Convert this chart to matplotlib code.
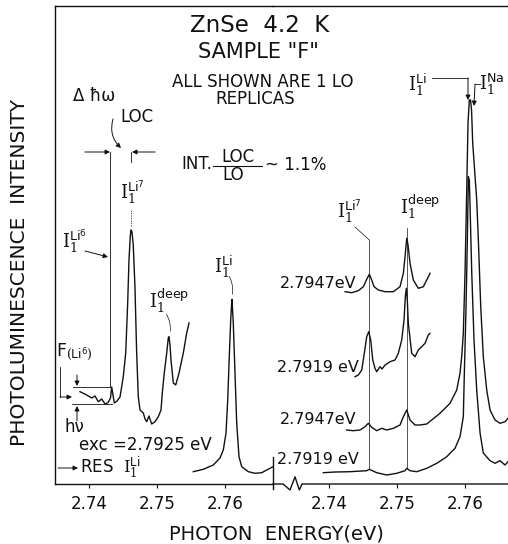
import matplotlib.pyplot as plt

plt.rcParams['font.family'] = 'DejaVu Sans'
plt.rcParams['mathtext.fontset'] = 'dejavuserif'

# left panel: 1LO replica, hv_exc = 2.7925 eV
loc_E = [2.73868, 2.73966, 2.74040, 2.74088, 2.74137, 2.74187, 2.74235, 2.74279,
         2.74316, 2.74334, 2.74353, 2.74372, 2.74412, 2.74456, 2.74504, 2.74540,
         2.74569, 2.74588, 2.74607, 2.74618, 2.74632, 2.74651, 2.74676, 2.74701,
         2.74725, 2.74750, 2.74799, 2.74824, 2.74849, 2.74882, 2.74922, 2.74971,
         2.75019, 2.75059, 2.75078, 2.75107, 2.75143, 2.75166, 2.75176, 2.75191,
         2.75206, 2.75240, 2.75275, 2.75324, 2.75387, 2.75437, 2.75471]
loc_I = [92.3, 89, 86, 88, 82.3, 85, 80, 81.3,
         86, 97, 89, 81, 83, 87, 107.3, 131,
         181, 224, 248, 254, 252, 239, 197, 131,
         87, 74, 71, 65, 62.3, 68, 60, 62.3,
         67.3, 74, 91, 111, 131, 146, 147.3, 139,
         124, 101, 99, 111, 131, 151, 161]

# left panel: resonant I1(Li) line
res_E = [2.75534, 2.75681, 2.75828, 2.75926, 2.75975, 2.76015, 2.76040, 2.76063,
         2.76084, 2.76099, 2.76103, 2.76122, 2.76147, 2.76172, 2.76206, 2.76246,
         2.76343, 2.76441, 2.76540, 2.76613, 2.76662, 2.76706]
res_I = [12.3, 14.7, 19, 26, 34, 51, 84, 127.3,
         164, 182, 184.7, 161, 111, 61, 27.3, 17.3,
         12.3, 10.7, 11.3, 14, 15.7, 17.3]

# right panel, top trace: 2.7947 eV
a_E = [2.74235, 2.74334, 2.74431, 2.74504, 2.74554, 2.74593, 2.74628, 2.74662,
       2.74725, 2.74824, 2.74946, 2.75044, 2.75093, 2.75118, 2.75143, 2.75162,
       2.75191, 2.75240, 2.75313, 2.75387, 2.75437, 2.75485]
a_I = [192.3, 191.3, 193.3, 197.3, 204.7, 209.7, 204, 197.3,
       194, 192.3, 192.3, 197.3, 210.7, 227.3, 245.7, 239,
       220.7, 204, 195.7, 197.3, 204, 210.7]

# right panel, second trace: 2.7919 eV
b_E = [2.74382, 2.74431, 2.74481, 2.74519, 2.74554, 2.74584, 2.74613, 2.74643,
       2.74676, 2.74701, 2.74750, 2.74779, 2.74824, 2.74897, 2.74971, 2.75019,
       2.75069, 2.75103, 2.75122, 2.75137, 2.75151, 2.75166, 2.75216, 2.75265,
       2.75313, 2.75363, 2.75412, 2.75460, 2.75485]
b_I = [107.3, 109, 114, 130.7, 147.3, 152.3, 144, 124,
       115.7, 112.3, 117.3, 115, 119, 122.3, 124, 130.7,
       144, 164, 187.3, 195.7, 184, 160.7, 130.7, 127.3,
       134, 137.3, 140.7, 149, 150.7]

# right panel, third trace: 2.7947 eV, full range
c_E = [2.74260, 2.74357, 2.74456, 2.74529, 2.74578, 2.74628, 2.74701, 2.74775,
       2.74849, 2.74946, 2.75044, 2.75093, 2.75143, 2.75191, 2.75265, 2.75338,
       2.75437, 2.75510, 2.75632, 2.75779, 2.75878, 2.75926, 2.75951, 2.75975,
       2.76000, 2.76025, 2.76044, 2.76063, 2.76081, 2.76096, 2.76113, 2.76172,
       2.76196, 2.76231, 2.76269, 2.76319, 2.76368, 2.76441, 2.76515, 2.76588,
       2.76632]
c_I = [54, 53.3, 54, 57.3, 60.7, 56.7, 53.3, 55.7,
       54, 55.7, 59, 67.3, 74, 64, 59, 59,
       60, 64, 70.7, 80.7, 94, 110.7, 127.3, 151,
       211, 294, 361, 384, 384, 374, 341, 284,
       244, 177.3, 127.3, 94, 74, 64, 60.7, 62.3,
       65.7]

# right panel, bottom trace: 2.7919 eV, full range
d_E = [2.73916, 2.74088, 2.74309, 2.74554, 2.74593, 2.74701, 2.74849, 2.74996,
       2.75118, 2.75143, 2.75191, 2.75290, 2.75437, 2.75584, 2.75731, 2.75853,
       2.75926, 2.75975, 2.75990, 2.76015, 2.76034, 2.76049, 2.76063, 2.76074,
       2.76099, 2.76132, 2.76172, 2.76221, 2.76269, 2.76368, 2.76441, 2.76515,
       2.76588, 2.76632]
d_I = [11.3, 12, 12.3, 13.3, 14.7, 11.3, 9, 10.7,
       13.3, 15.7, 13.3, 12.3, 15.7, 20.7, 27.3, 35.7,
       47.3, 67.3, 111, 177, 244, 307.3, 304, 277.3,
       211, 144, 94, 51, 31, 23.3, 20.7, 23.3,
       19, 22.3]

trace_labels = ['2.7947eV', '2.7919 eV', '2.7947eV', '2.7919 eV']
tick_E = [2.74, 2.75, 2.76]
tick_labels = ['2.74', '2.75', '2.76']
li7_E = 2.74593
deep_E = 2.75143

ink = '#111111'
fig = plt.figure(figsize=(5.08, 5.44), dpi=100)
ax1 = fig.add_axes([55 / 508, 60 / 544, 218 / 508, 478 / 544])
ax2 = fig.add_axes([273 / 508, 60 / 544, 235 / 508, 478 / 544])
ax1.set_xlim(2.735, 2.76706)
ax2.set_xlim(2.73176, 2.76632)
for ax in (ax1, ax2):
    ax.set_ylim(0, 478)
    ax.set_yticks([])
    ax.set_xticks(tick_E)
    ax.set_xticklabels(tick_labels)
    ax.tick_params(axis='x', direction='out', length=3, width=0.8,
                   labelsize=12, pad=5, colors=ink)
    ax.patch.set_alpha(0)
    for s in ax.spines.values():
        s.set_linewidth(1.0)
        s.set_color(ink)
ax1.spines['right'].set_visible(False)
ax2.spines['left'].set_visible(False)
ax2.spines['right'].set_visible(False)
ax2.spines['bottom'].set_visible(False)

lw = 1.0
ax1.plot(loc_E, loc_I, color=ink, lw=lw)
ax1.plot(res_E, res_I, color=ink, lw=lw)
ax2.plot(a_E, a_I, color=ink, lw=lw)
ax2.plot(b_E, b_I, color=ink, lw=lw)
ax2.plot(c_E, c_I, color=ink, lw=lw)
ax2.plot(d_E, d_I, color=ink, lw=lw)

# thin markers through the Li7 and deep lines of the right-hand traces
ax2.plot([li7_E, li7_E], [14.7, 244], color=ink, lw=0.5)
ax2.plot([deep_E, deep_E], [15.7, 256], color=ink, lw=0.5)

# axis break: tick mark on the left panel end, zigzag in the right panel axis
ax1.plot([1, 1], [0.0565, -0.0105], transform=ax1.transAxes, color=ink,
         lw=1.0, clip_on=False)
tr = ax2.get_xaxis_transform()
ax2.plot([2.73176, 2.73324, 2.73426, 2.73500, 2.73563, 2.73603, 2.76632],
         [0, 0, -0.0125, 0.015, -0.0125, 0, 0],
         transform=tr, color=ink, lw=1.0, clip_on=False)

# overlay in pixel units for the lettering and arrows
ov = fig.add_axes([0, 0, 1, 1])
ov.set_xlim(0, 508)
ov.set_ylim(544, 0)
ov.axis('off')
ov.patch.set_alpha(0)


def arrow(x0, y0, x1, y1, rad=0.0):
    ov.annotate('', xy=(x1, y1), xytext=(x0, y0),
                arrowprops=dict(arrowstyle='-|>', lw=0.7, color=ink,
                                mutation_scale=7, shrinkA=0, shrinkB=0,
                                connectionstyle=f'arc3,rad={rad}'))


def seg(xs, ys, lw=0.6, ls='-'):
    ov.plot(xs, ys, color=ink, lw=lw, ls=ls)


ov.text(260, 25, 'ZnSe  4.2  K', fontsize=16.5, ha='center', va='center', color=ink)
ov.text(258, 52, 'SAMPLE "F"', fontsize=15, ha='center', va='center', color=ink)
ov.text(263, 82, 'ALL SHOWN ARE 1 LO', fontsize=12, ha='center', va='center', color=ink)
ov.text(255, 99, 'REPLICAS', fontsize=12, ha='center', va='center', color=ink)

ov.text(181, 164, 'INT.', fontsize=12, ha='left', va='center', color=ink)
ov.text(238, 157, 'LOC', fontsize=12, ha='center', va='center', color=ink)
ov.text(233, 175, 'LO', fontsize=12, ha='center', va='center', color=ink)
seg([213, 262], [166, 166], lw=0.8)
ov.text(265, 165, '~ 1.1%', fontsize=12, ha='left', va='center', color=ink)

# localized-mode splitting bracket
ov.text(73, 96, 'Δ ħω', fontsize=12, ha='left', va='center', color=ink)
ov.text(120, 117, 'LOC', fontsize=12, ha='left', va='center', color=ink)
arrow(113, 119, 121, 148, rad=0.3)
arrow(85, 152, 110, 152)
arrow(155, 152, 132, 152)
seg([110, 110], [152, 387])
seg([131, 131], [152, 162])

ov.text(62, 242, r'$\mathrm{I}_{1}^{\mathsf{Li}^{\mathsf{6}}}$', fontsize=13,
        ha='left', va='center', color=ink)
arrow(85, 251, 108, 257)
ov.text(120, 193, r'$\mathrm{I}_{1}^{\mathsf{Li}^{\mathsf{7}}}$', fontsize=13,
        ha='left', va='center', color=ink)
seg([131, 131], [210, 227], lw=0.5, ls=(0, (2, 1.5)))
ov.text(149, 301, r'$\mathrm{I}_{1}^{\mathsf{deep}}$', fontsize=13,
        ha='left', va='center', color=ink)
ov.annotate('', xy=(170, 334), xytext=(165, 312),
            arrowprops=dict(arrowstyle='-', lw=0.5, color=ink,
                            connectionstyle='arc3,rad=-0.2'))
ov.text(214, 267, r'$\mathrm{I}_{1}^{\mathsf{Li}}$', fontsize=13,
        ha='left', va='center', color=ink)
ov.annotate('', xy=(232, 297), xytext=(228, 274),
            arrowprops=dict(arrowstyle='-', lw=0.5, color=ink,
                            connectionstyle='arc3,rad=-0.2'))

# F(Li6) marker and excitation energy
ov.text(56, 352, r'F$_{(\mathsf{Li}^{\mathsf{6}})}$', fontsize=12.5,
        ha='left', va='center', color=ink)
seg([60, 60], [367, 397])
arrow(60, 397, 72, 397)
arrow(77, 375, 77, 386)
seg([73, 110], [387, 387])
seg([72, 112], [404, 404])
arrow(77, 421, 77, 406)
ov.text(64, 427, 'hν', fontsize=12, ha='left', va='center', color=ink)
ov.text(79, 445, 'exc =2.7925 eV', fontsize=12, ha='left', va='center', color=ink)
arrow(58, 468, 78, 468)
ov.text(80, 467, r'RES  $\mathrm{I}_{1}^{\mathsf{Li}}$', fontsize=12,
        ha='left', va='center', color=ink)

# right panel lettering
for lab, ypix in zip(trace_labels, [283, 367, 420, 460]):
    ov.text(318, ypix, lab, fontsize=11.5, ha='center', va='center', color=ink)
ov.text(337, 212, r'$\mathrm{I}_{1}^{\mathsf{Li}^{\mathsf{7}}}$', fontsize=13,
        ha='left', va='center', color=ink)
seg([355, 369.3], [227, 240], lw=0.5)
ov.text(400, 207, r'$\mathrm{I}_{1}^{\mathsf{deep}}$', fontsize=13,
        ha='left', va='center', color=ink)
ov.text(408, 85, r'$\mathrm{I}_{1}^{\mathsf{Li}}$', fontsize=13,
        ha='left', va='center', color=ink)
seg([432, 468], [78, 78])
arrow(468, 78, 468, 100)
ov.text(479, 84, r'$\mathrm{I}_{1}^{\mathsf{Na}}$', fontsize=13,
        ha='left', va='center', color=ink)
seg([480, 475], [84, 84])
arrow(475, 84, 474, 106)

ov.text(20, 273, 'PHOTOLUMINESCENCE  INTENSITY', fontsize=14.5, rotation=90,
        ha='center', va='center', color=ink)
ov.text(276, 540, 'PHOTON  ENERGY(eV)', fontsize=14, ha='center',
        va='baseline', color=ink)

fig.savefig('out.png', dpi=100, facecolor='white')
